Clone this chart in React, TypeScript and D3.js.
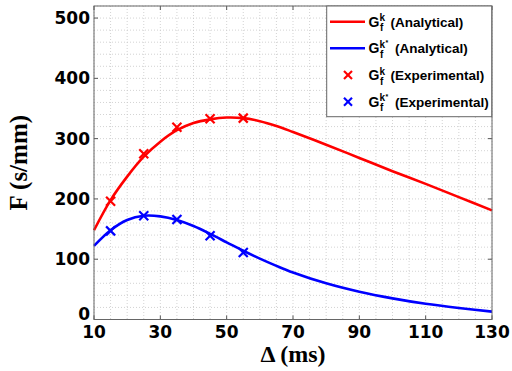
import React from "react";
import * as d3 from "d3";

// Axis ticks
const xTicks = [10, 30, 50, 70, 90, 110, 130];
const yTicks = [0, 100, 200, 300, 400, 500];

// Analytical curves sampled along Δ (ms)
const curveDelta = [10, 15, 20, 25, 30, 35, 40, 45, 50, 55, 60, 65, 70, 80, 90, 100, 110, 120, 130];
const redAnalytical = [148, 198, 237, 270, 295, 314, 326, 332, 335, 334, 329, 321, 311, 290, 268, 246, 225, 203, 181];
const blueAnalytical = [122, 148, 165, 172, 171, 165, 155, 142, 128, 114, 101, 89, 78, 60, 46, 35, 26, 19, 13];

// Experimental measurements
const expDelta = [15, 25, 35, 45, 55];
const redExperimental = [196, 275, 319, 333, 334];
const blueExperimental = [147, 172, 166, 139, 111];

const W = 512;
const H = 371;
const m = { left: 94, right: 492, top: 6, bottom: 319.5 };

const RED = "#ff0000";
const BLUE = "#0000ff";
const TICK_FONT = "'DejaVu Sans', sans-serif";
const TITLE_FONT = "'Liberation Serif', 'Times New Roman', serif";
const LEGEND_FONT = "'Liberation Sans', Arial, sans-serif";

export default function App() {
  const x = d3.scaleLinear().domain([10, 130]).range([m.left, m.right]);
  const y = d3.scaleLinear().domain([0, 520]).range([m.bottom, m.top]);

  const line = d3
    .line<number>()
    .x((_, i) => x(curveDelta[i]))
    .y((d) => y(d))
    .curve(d3.curveCatmullRom.alpha(0.5));

  const xGrid = d3.range(10, 130.1, 5);
  const yGrid = d3.range(0, 520.1, 20);

  const cross = (cx: number, cy: number, color: string, key: string, s = 4.5) => (
    <g key={key} stroke={color} strokeWidth={2.2}>
      <line x1={cx - s} y1={cy - s} x2={cx + s} y2={cy + s} />
      <line x1={cx - s} y1={cy + s} x2={cx + s} y2={cy - s} />
    </g>
  );

  // Legend label: G with superscript k (or k*) and subscript f, then a caption
  const legendLabel = (ly: number, star: boolean, caption: string) => (
    <g fontFamily={LEGEND_FONT} fontWeight="bold" fill="#000">
      <text x={368.5} y={ly + 5} fontSize={14}>G</text>
      <text x={379.5} y={ly - 0.5} fontSize={10}>k</text>
      {star && <text x={385.5} y={ly - 3} fontSize={7}>*</text>}
      <text x={380} y={ly + 9.5} fontSize={10}>f</text>
      <text x={star ? 395 : 390.5} y={ly + 5} fontSize={13.5}>{caption}</text>
    </g>
  );

  const rows = [21.7, 48.3, 75, 101.7];

  return (
    <svg
      width={W}
      height={H}
      style={{ position: "absolute", left: 0, top: 0, background: "#fff" }}
    >
      <rect x={0} y={0} width={W} height={H} fill="#fff" />

      {/* dotted grid */}
      <g stroke="#c8c8c8" strokeWidth={0.8} strokeDasharray="1,2">
        {xGrid.map((v) => (
          <line key={"gx" + v} x1={x(v)} x2={x(v)} y1={m.top} y2={m.bottom} />
        ))}
        {yGrid.map((v) => (
          <line key={"gy" + v} x1={m.left} x2={m.right} y1={y(v)} y2={y(v)} />
        ))}
      </g>

      {/* inward ticks on all four sides */}
      <g stroke="#555" strokeWidth={1}>
        {xTicks.map((v) => (
          <g key={"tx" + v}>
            <line x1={x(v)} x2={x(v)} y1={m.bottom} y2={m.bottom - 4} />
            <line x1={x(v)} x2={x(v)} y1={m.top} y2={m.top + 4} />
          </g>
        ))}
        {yTicks.map((v) => (
          <g key={"ty" + v}>
            <line x1={m.left} x2={m.left + 4} y1={y(v)} y2={y(v)} />
            <line x1={m.right} x2={m.right - 4} y1={y(v)} y2={y(v)} />
          </g>
        ))}
      </g>

      {/* analytical curves */}
      <path d={line(redAnalytical) || ""} fill="none" stroke={RED} strokeWidth={2.6} />
      <path d={line(blueAnalytical) || ""} fill="none" stroke={BLUE} strokeWidth={2.6} />

      {/* experimental markers */}
      {expDelta.map((d, i) => cross(x(d), y(redExperimental[i]), RED, "r" + i))}
      {expDelta.map((d, i) => cross(x(d), y(blueExperimental[i]), BLUE, "b" + i))}

      {/* plot frame */}
      <rect
        x={m.left}
        y={m.top}
        width={m.right - m.left}
        height={m.bottom - m.top}
        fill="none"
        stroke="#666"
        strokeWidth={1}
      />

      {/* tick labels */}
      <g fontFamily={TICK_FONT} fontWeight="bold" fontSize={17} fill="#000">
        {xTicks.map((v) => (
          <text key={"lx" + v} x={x(v)} y={338} textAnchor="middle">
            {v}
          </text>
        ))}
        {yTicks.map((v) => (
          <text
            key={"ly" + v}
            x={90}
            y={y(v) + (v === 0 ? -6 : 0)}
            textAnchor="end"
            dominantBaseline="central"
          >
            {v}
          </text>
        ))}
      </g>

      {/* axis titles */}
      <text
        x={(m.left + m.right) / 2}
        y={362}
        textAnchor="middle"
        fontFamily={TITLE_FONT}
        fontWeight="bold"
        fontSize={24}
        fill="#000"
      >
        Δ (ms)
      </text>
      <text
        transform={`translate(27,${(m.top + m.bottom) / 2}) rotate(-90)`}
        textAnchor="middle"
        fontFamily={TITLE_FONT}
        fontWeight="bold"
        fontSize={25}
        fill="#000"
      >
        F (s/mm)
      </text>

      {/* legend */}
      <rect x={326.7} y={6} width={165} height={110.7} fill="#fff" stroke="#666" strokeWidth={1} />
      <line x1={330} x2={365} y1={rows[0]} y2={rows[0]} stroke={RED} strokeWidth={2.6} />
      {legendLabel(rows[0], false, "(Analytical)")}
      <line x1={330} x2={365} y1={rows[1]} y2={rows[1]} stroke={BLUE} strokeWidth={2.6} />
      {legendLabel(rows[1], true, "(Analytical)")}
      {cross(348, rows[2], RED, "lr", 4)}
      {legendLabel(rows[2], false, "(Experimental)")}
      {cross(348, rows[3], BLUE, "lb", 4)}
      {legendLabel(rows[3], true, "(Experimental)")}
    </svg>
  );
}
